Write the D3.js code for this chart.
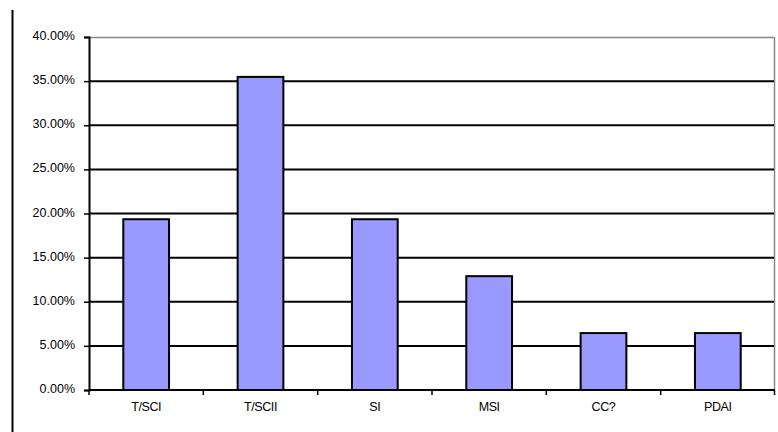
<!DOCTYPE html>
<html>
<head>
<meta charset="utf-8">
<script src="https://cdn.jsdelivr.net/npm/d3@7/dist/d3.min.js"></script>
<style>
  html, body { margin: 0; padding: 0; background: #fff; }
  svg { display: block; }
  text { font-family: "Liberation Sans", Arial, sans-serif; font-size: 12.5px; fill: #000; }
</style>
</head>
<body>
<svg id="chart" width="778" height="432"></svg>
<script>
const categories = ["T/SCI", "T/SCII", "SI", "MSI", "CC?", "PDAI"];
const values = [0.1935, 0.3548, 0.1935, 0.1290, 0.0645, 0.0645];
const yTicks = [0, 0.05, 0.10, 0.15, 0.20, 0.25, 0.30, 0.35, 0.40];

const svg = d3.select("#chart");
const margin = { left: 89, right: 3, top: 37, bottom: 42 };
const W = 778, H = 432;
const x0 = margin.left, x1 = W - margin.right;
const y0 = H - margin.bottom, y1 = margin.top;

const x = d3.scaleBand().domain(categories).range([x0, x1]).paddingInner(0.6).paddingOuter(0.3);
const xb = d3.scaleBand().domain(categories).range([x0, x1]);
const y = d3.scaleLinear().domain([0, 0.4]).range([y0, y1]);

// outer left frame line
svg.append("line").attr("x1", 12.5).attr("x2", 12.5).attr("y1", 10).attr("y2", 432)
  .attr("stroke", "#000").attr("stroke-width", 2);

// plot border (top and right, gray)
svg.append("path")
  .attr("d", `M${x0},${y1 + 0.5}H${x1 - 0.5}V${y0}`)
  .attr("fill", "none").attr("stroke", "#888").attr("stroke-width", 1.5);

// gridlines
svg.append("g").selectAll("line").data(yTicks.filter(t => t > 0 && t < 0.4)).join("line")
  .attr("x1", x0).attr("x2", x1 - 1)
  .attr("y1", d => y(d)).attr("y2", d => y(d))
  .attr("stroke", "#000").attr("stroke-width", 2);

// bars
svg.append("g").selectAll("rect").data(values).join("rect")
  .attr("x", (d, i) => x(categories[i]))
  .attr("width", x.bandwidth())
  .attr("y", d => y(d))
  .attr("height", d => y0 - y(d))
  .attr("fill", "#9999FF")
  .attr("stroke", "#000").attr("stroke-width", 2);

// y axis
const yAxis = d3.axisLeft(y).tickValues(yTicks).tickFormat(d3.format(".2%")).tickSize(5).tickPadding(9);
const gy = svg.append("g").attr("transform", `translate(${x0},0)`).call(yAxis);
gy.select(".domain").attr("stroke", "#000").attr("stroke-width", 2);
gy.selectAll(".tick line").attr("stroke", "#000").attr("stroke-width", 1.5);
gy.selectAll("text").attr("dy", "0.2em");

// x axis
const gx = svg.append("g").attr("transform", `translate(0,${y0})`);
gx.append("line").attr("x1", x0).attr("x2", x1).attr("y1", 0).attr("y2", 0)
  .attr("stroke", "#000").attr("stroke-width", 2);
const boundaries = categories.map(c => xb(c)).concat([x1 - 0.5]);
gx.selectAll("line.tk").data(boundaries).join("line").attr("class", "tk")
  .attr("x1", d => d).attr("x2", d => d).attr("y1", 0).attr("y2", 5)
  .attr("stroke", "#000").attr("stroke-width", 1.5);
gx.selectAll("text").data(categories).join("text")
  .attr("x", d => xb(d) + xb.bandwidth() / 2)
  .attr("y", 21)
  .attr("text-anchor", "middle")
  .attr("letter-spacing", "-0.4px")
  .text(d => d);
</script>
</body>
</html>
